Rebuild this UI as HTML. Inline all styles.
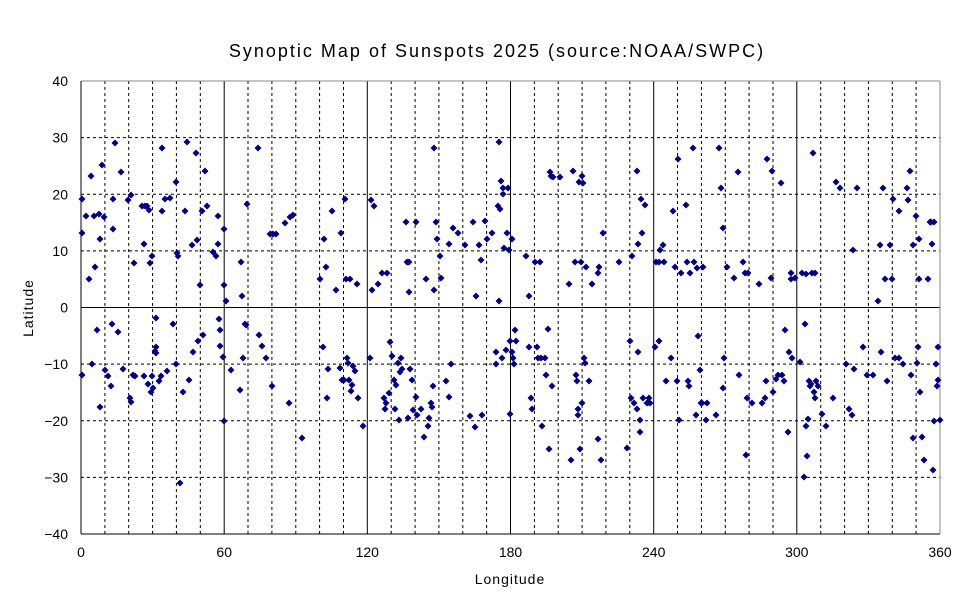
<!DOCTYPE html>
<html><head><meta charset="utf-8"><style>
html,body{margin:0;padding:0;background:#fff;width:970px;height:604px;overflow:hidden}
text{font-family:"Liberation Sans","DejaVu Sans",sans-serif;fill:#000}
</style></head><body>
<svg id="s" width="970" height="604" xmlns="http://www.w3.org/2000/svg">
<rect width="970" height="604" fill="#fff"/>
<text x="497" y="57" font-size="18" letter-spacing="2" text-anchor="middle">Synoptic Map of Sunspots 2025 (source:NOAA/SWPC)</text>
<text x="510" y="584" font-size="14" letter-spacing="1" text-anchor="middle">Longitude</text>
<text transform="translate(33,308) rotate(-90)" font-size="14" letter-spacing="1" text-anchor="middle">Latitude</text>
<g id="g"></g>
</svg>
<script>
var g=document.getElementById('g'),h='';
function X(v){return 81+v*859/360}
function Y(v){return 81+(40-v)*453/80}
for(var lon=10;lon<360;lon+=10){var x=X(lon).toFixed(1);
 if(lon%60==0)h+='<line x1="'+x+'" y1="81" x2="'+x+'" y2="534" stroke="#000" stroke-width="1"/>';
 else h+='<line x1="'+x+'" y1="81" x2="'+x+'" y2="534" stroke="#000" stroke-width="1" stroke-dasharray="3,3"/>';}
for(var la=-30;la<=30;la+=10){var y=Y(la).toFixed(1);
 if(la==0)h+='<line x1="81" y1="'+y+'" x2="940" y2="'+y+'" stroke="#000" stroke-width="1"/>';
 else h+='<line x1="81" y1="'+y+'" x2="940" y2="'+y+'" stroke="#000" stroke-width="1" stroke-dasharray="3,3"/>';}
h+='<line x1="81" y1="81" x2="940" y2="81" stroke="#888"/><line x1="940" y1="81" x2="940" y2="534" stroke="#888"/>';
h+='<line x1="81" y1="81" x2="81" y2="534" stroke="#000"/><line x1="81" y1="534" x2="940" y2="534" stroke="#000"/>';
for(var la=-40;la<=40;la+=10){h+='<text x="68" y="'+(Y(la)+5).toFixed(1)+'" font-size="14" text-anchor="end">'+(la<0?'\u2212'+(-la):la)+'</text>';}
for(var lon=0;lon<=360;lon+=60){h+='<text x="'+X(lon).toFixed(1)+'" y="557" font-size="14" text-anchor="middle">'+lon+'</text>';}
var p=[82,199,82,233,82,375,86,216,89,279,91,176,92,364,94,216,95,267,97,330,99,214,100,407,100,239,102,165,104,217,105,370,108,376,111,386,112,324,113,199,113,229,115,143,118,332,121,172,123,369,128,200,131,195,130,398,131,402,133,375,134,263,135,376,142,206,144,244,144,376,145,206,147,206,148,384,149,210,150,263,151,392,152,376,153,388,152,256,155,351,156,318,156,353,156,347,159,381,161,376,162,211,162,148,165,199,167,371,170,198,173,324,176,364,176,182,177,253,178,256,180,483,183,392,185,211,187,142,189,380,192,245,193,352,196,153,197,240,198,341,200,285,202,211,203,335,205,171,207,206,213,252,216,256,218,216,218,244,219,319,220,346,220,330,223,357,224,421,224,229,224,285,
226,301,231,370,240,390,241,262,242,296,243,358,245,324,246,325,247,204,258,148,259,335,262,346,266,358,270,234,272,386,273,234,276,234,285,223,289,403,290,217,293,215,302,438,320,279,323,347,324,239,326,267,327,398,328,369,332,211,336,290,340,368,341,233,342,380,344,380,345,199,346,279,347,358,348,363,349,380,350,279,351,391,352,385,353,366,355,371,357,284,358,398,363,426,
370,358,371,200,372,290,374,206,378,284,382,273,384,398,385,409,386,403,387,273,389,393,390,342,392,356,394,380,395,409,396,385,398,363,399,420,400,372,401,358,402,369,406,222,407,262,408,418,409,292,409,262,410,369,412,380,413,410,416,222,416,397,417,415,421,409,424,437,426,279,428,426,429,418,431,403,432,407,433,386,434,290,434,148,436,222,437,239,440,256,441,278,446,381,449,397,449,244,451,364,453,228,458,233,465,245,470,416,473,222,475,427,476,296,479,245,481,260,482,415,485,221,487,239,492,233,496,364,496,352,498,206,499,142,499,301,500,209,501,181,502,358,503,188,503,194,504,248,506,350,507,233,508,188,509,250,510,414,510,341,512,352,512,239,513,358,514,364,515,330,516,341,
526,256,529,296,529,347,531,398,532,409,535,262,537,347,538,358,540,262,541,358,542,426,545,358,546,375,548,329,549,449,550,172,551,176,552,386,553,177,560,177,569,284,571,460,573,171,575,262,576,375,577,381,578,415,578,409,579,182,580,449,581,262,582,176,582,403,583,183,584,358,585,363,586,267,589,381,592,284,598,273,598,439,599,267,601,460,603,233,619,262,627,448,630,341,631,398,632,256,634,403,637,409,637,171,638,352,638,244,640,420,640,432,641,199,642,233,643,398,645,205,647,403,649,398,650,403,
655,347,656,262,659,262,659,341,660,250,663,245,664,262,666,381,671,358,673,211,675,267,677,381,678,159,679,420,681,273,686,205,687,262,688,381,689,386,690,273,693,148,694,262,696,415,697,268,698,336,700,370,701,403,702,403,703,267,706,420,707,403,716,415,719,148,721,188,723,228,723,388,724,358,727,267,734,278,738,172,739,375,743,262,745,273,746,455,747,398,748,273,752,403,759,284,762,403,765,398,766,381,767,159,771,278,772,171,773,392,776,379,778,375,781,183,782,375,784,381,785,330,788,432,789,352,791,273,791,279,792,358,795,278,
800,362,802,273,804,477,805,324,806,274,806,426,807,456,808,419,809,381,810,386,811,384,812,273,813,153,814,392,815,273,815,398,816,381,818,386,822,414,826,426,833,398,836,182,840,188,846,364,849,409,852,415,853,250,854,369,857,188,863,347,867,375,873,375,878,301,880,245,881,352,883,188,885,279,887,381,890,245,892,279,893,199,895,358,899,211,899,358,903,364,907,188,908,200,910,171,911,375,913,438,913,245,916,216,917,363,918,347,919,279,919,239,920,392,922,437,924,460,928,279,930,222,931,222,932,244,933,470,934,421,934,222,936,364,937,386,938,347,938,380,940,420];
var d='';for(var i=0;i<p.length;i+=2){d+='M'+p[i]+' '+(p[i+1]-3.5)+'l3.5 3.5-3.5 3.5-3.5-3.5z';}
h+='<path d="'+d+'" fill="#000080"/>';
g.innerHTML=h;
</script>
</body></html>
